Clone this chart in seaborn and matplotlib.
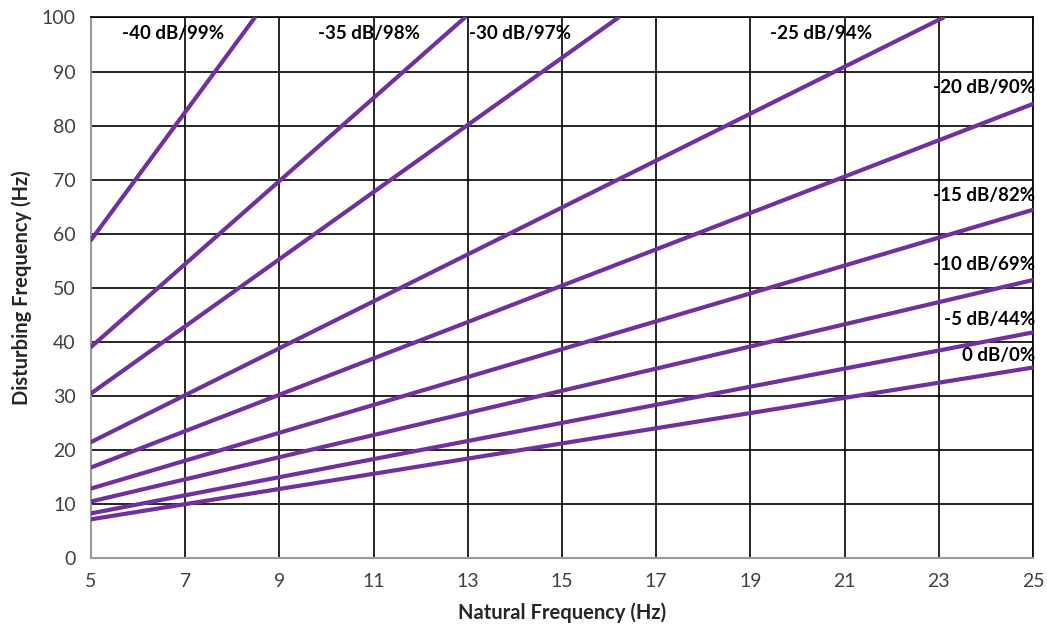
import matplotlib
matplotlib.use("Agg")
import matplotlib.pyplot as plt
import seaborn as sns
import pandas as pd

curve_names = ["0 dB/0%", "-5 dB/44%", "-10 dB/69%", "-15 dB/82%", "-20 dB/90%",
               "-25 dB/94%", "-30 dB/97%", "-35 dB/98%", "-40 dB/99%"]
start_x = [5, 5, 5, 5, 5, 5, 5, 5, 5]
start_y = [7.1, 8.2, 10.4, 12.8, 16.7, 21.4, 30.4, 39.0, 58.8]
end_x = [25, 25, 25, 25, 25, 23.1, 16.2, 12.94, 8.48]
end_y = [35.2, 41.7, 51.4, 64.4, 84.0, 100, 100, 100, 100]

# label anchor positions (data coords)
label_x = [25.05, 25.05, 25.05, 25.05, 25.05, 20.5, 14.1, 10.9, 6.75]
label_y = [37.5, 44.0, 54.3, 67.0, 87.0, 97.0, 97.0, 97.0, 97.0]

xticks = list(range(5, 26, 2))
yticks = list(range(0, 101, 10))

rows = []
for name, x0, y0, x1, y1 in zip(curve_names, start_x, start_y, end_x, end_y):
    rows.append({"curve": name, "natural": x0, "disturbing": y0})
    rows.append({"curve": name, "natural": x1, "disturbing": y1})
df = pd.DataFrame(rows)

sns.set_style("white")
plt.rcParams["font.family"] = ["Lato", "DejaVu Sans"]

fig = plt.figure(figsize=(10.47, 6.29), dpi=100)
ax = fig.add_axes([0.0869, 0.1134, 0.8997, 0.8588])

purple = "#7030A0"
sns.lineplot(data=df, x="natural", y="disturbing", hue="curve",
             palette=[purple] * len(curve_names), legend=False,
             linewidth=3, ax=ax, zorder=3, clip_on=True)

ax.set_xlim(5, 25)
ax.set_ylim(0, 100)
ax.set_xticks(xticks)
ax.set_yticks(yticks)
ax.grid(True, color="black", linewidth=1.2, zorder=1)
ax.set_axisbelow(True)
ax.tick_params(length=0, labelsize=14, labelcolor="#404040", pad=11)

for side in ["top", "right"]:
    ax.spines[side].set_color("black")
    ax.spines[side].set_linewidth(1.2)
for side in ["left", "bottom"]:
    ax.spines[side].set_color("#999999")
    ax.spines[side].set_linewidth(1.5)

ax.set_xlabel("Natural Frequency (Hz)", fontsize=14.5, fontweight="bold", labelpad=9)
ax.set_ylabel("Disturbing Frequency (Hz)", fontsize=14.5, fontweight="bold", labelpad=7)

for name, lx, ly in zip(curve_names, label_x, label_y):
    ha = "right" if lx > 25 else "center"
    ax.text(lx, ly, name, ha=ha, va="center", fontsize=13.5, fontweight="bold",
            color="black", zorder=4, clip_on=False)

fig.savefig("out.png", dpi=100)
